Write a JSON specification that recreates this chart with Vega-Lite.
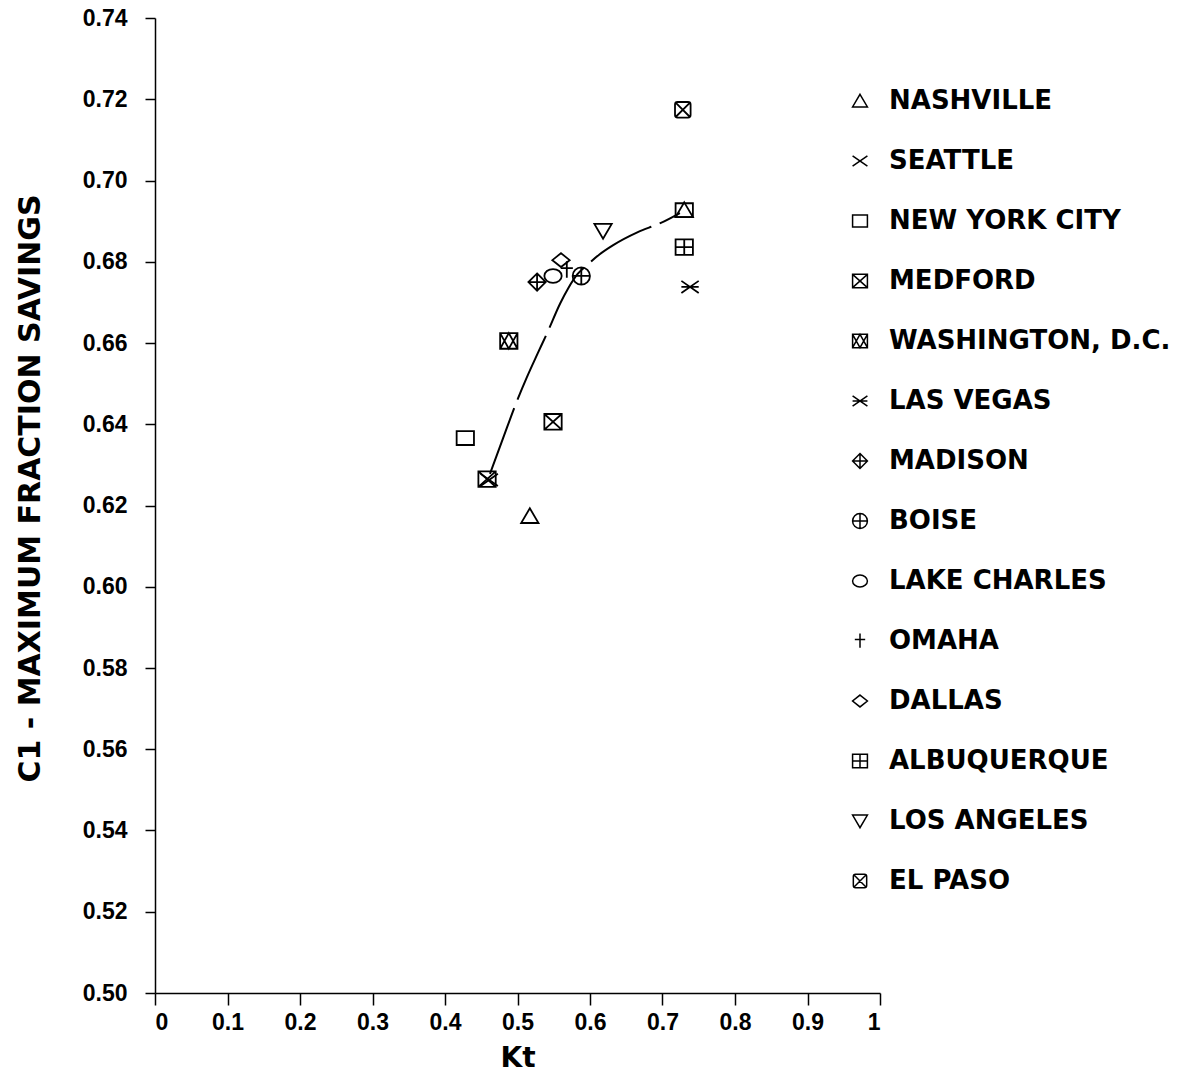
{
  "$schema": "https://vega.github.io/schema/vega-lite/v6.json",
  "width": 725,
  "height": 975,
  "autosize": {"type": "none"},
  "padding": {"left": 155, "top": 18, "right": 312, "bottom": 84},
  "background": "white",
  "config": {"view": {"stroke": null}, "font": "DejaVu Sans"},
  "datasets": {
    "pts": [
      {"city": "NASHVILLE", "kt": 0.517, "c1": 0.6174},
      {"city": "SEATTLE", "kt": 0.461, "c1": 0.6263},
      {"city": "NEW YORK CITY", "kt": 0.428, "c1": 0.6366},
      {"city": "MEDFORD", "kt": 0.549, "c1": 0.6406},
      {"city": "MEDFORD", "kt": 0.458, "c1": 0.6265},
      {"city": "WASHINGTON, D.C.", "kt": 0.488, "c1": 0.6605},
      {"city": "LAS VEGAS", "kt": 0.738, "c1": 0.6738},
      {"city": "MADISON", "kt": 0.527, "c1": 0.675},
      {"city": "BOISE", "kt": 0.588, "c1": 0.6765},
      {"city": "LAKE CHARLES", "kt": 0.549, "c1": 0.6765},
      {"city": "OMAHA", "kt": 0.568, "c1": 0.678},
      {"city": "DALLAS", "kt": 0.56, "c1": 0.6804},
      {"city": "ALBUQUERQUE", "kt": 0.73, "c1": 0.6836},
      {"city": "LOS ANGELES", "kt": 0.618, "c1": 0.6876},
      {"city": "EL PASO", "kt": 0.728, "c1": 0.7174},
      {"city": "NEW YORK CITY", "kt": 0.73, "c1": 0.6927},
      {"city": "NASHVILLE", "kt": 0.73, "c1": 0.6927}
    ],
    "curve": [
      {"kt": 0.462, "c1": 0.6278},
      {"kt": 0.48, "c1": 0.6365},
      {"kt": 0.497, "c1": 0.6447},
      {"kt": 0.513, "c1": 0.6516},
      {"kt": 0.528, "c1": 0.6575},
      {"kt": 0.541, "c1": 0.6625},
      {"kt": 0.559, "c1": 0.6698},
      {"kt": 0.57, "c1": 0.6735},
      {"kt": 0.583, "c1": 0.677},
      {"kt": 0.596, "c1": 0.6792},
      {"kt": 0.613, "c1": 0.6818},
      {"kt": 0.632, "c1": 0.6841},
      {"kt": 0.666, "c1": 0.6873},
      {"kt": 0.697, "c1": 0.6895},
      {"kt": 0.724, "c1": 0.692}
    ]
  },
  "layer": [
    {
      "data": {"name": "curve"},
      "mark": {"type": "line", "color": "black", "strokeWidth": 2, "strokeDash": [70, 9], "interpolate": "monotone"},
      "encoding": {
        "x": {"field": "kt", "type": "quantitative"},
        "y": {"field": "c1", "type": "quantitative"}
      }
    },
    {
      "data": {"name": "pts"},
      "mark": {"type": "point", "filled": false, "stroke": "black", "strokeWidth": 1.8, "size": 300, "opacity": 1},
      "encoding": {
        "x": {
          "field": "kt", "type": "quantitative",
          "scale": {"domain": [0, 1], "nice": false, "zero": false},
          "axis": {
            "title": "Kt", "values": [0, 0.1, 0.2, 0.3, 0.4, 0.5, 0.6, 0.7, 0.8, 0.9, 1],
            "format": ".1~f", "grid": false, "domainColor": "black", "domainWidth": 1.5,
            "tickColor": "black", "tickSize": 12, "tickWidth": 1.5,
            "labelFont": "Liberation Sans", "labelFontWeight": "bold",
            "labelFontSize": 23, "labelColor": "black", "labelPadding": 6,
            "titleFontSize": 28, "titleColor": "black", "titleFontWeight": "bold", "titlePadding": 10
          }
        },
        "y": {
          "field": "c1", "type": "quantitative",
          "scale": {"domain": [0.5, 0.74], "nice": false, "zero": false},
          "axis": {
            "title": "C1 - MAXIMUM FRACTION SAVINGS",
            "values": [0.5, 0.52, 0.54, 0.56, 0.58, 0.6, 0.62, 0.64, 0.66, 0.68, 0.7, 0.72, 0.74],
            "format": ".2f", "grid": false, "domainColor": "black", "domainWidth": 1.5,
            "tickColor": "black", "tickSize": 10, "tickWidth": 1.5,
            "labelFont": "Liberation Sans", "labelFontWeight": "bold",
            "labelFontSize": 23, "labelColor": "black", "labelPadding": 18,
            "titleFontSize": 30, "titleColor": "black", "titleFontWeight": "bold",
            "titleX": -110, "titleY": 470
          }
        },
        "shape": {
          "field": "city", "type": "nominal",
          "scale": {
            "domain": ["NASHVILLE", "SEATTLE", "NEW YORK CITY", "MEDFORD", "WASHINGTON, D.C.", "LAS VEGAS", "MADISON", "BOISE", "LAKE CHARLES", "OMAHA", "DALLAS", "ALBUQUERQUE", "LOS ANGELES", "EL PASO"],
            "range": [
              "M0,-0.9L1,0.8L-1,0.8Z",
              "M-1,-0.7L1,0.7M-1,0.7L1,-0.7",
              "M-1,-0.8H1V0.8H-1Z",
              "M-1,-0.9H1V0.9H-1ZM-1,-0.9L1,0.9M-1,0.9L1,-0.9",
              "M-1,-0.9H1V0.9H-1ZM-1,-0.9L0,0.9L1,-0.9M-1,0.9L0,-0.9L1,0.9",
              "M-1,-0.7L1,0.7M-1,0.7L1,-0.7M-1,0H1",
              "M0,-1L1,0L0,1L-1,0ZM0,-1V1M-1,0H1",
              "M-1,0A1,1 0 1,0 1,0A1,1 0 1,0 -1,0ZM0,-1V1M-1,0H1",
              "M-1,0A1,0.8 0 1,0 1,0A1,0.8 0 1,0 -1,0Z",
              "M0,-1V0.9M-0.7,-0.2H0.7",
              "M0,-0.8L1,0L0,0.8L-1,0Z",
              "M-1,-0.9H1V0.9H-1ZM0,-0.9V0.9M-1,0H1",
              "M-1,-0.8L1,-0.8L0,0.9Z",
              "M-0.9,-0.6Q-0.9,-0.9 -0.6,-0.9H0.6Q0.9,-0.9 0.9,-0.6V0.6Q0.9,0.9 0.6,0.9H-0.6Q-0.9,0.9 -0.9,0.6ZM-0.8,-0.8L0.8,0.8M-0.8,0.8L0.8,-0.8"
            ]
          },
          "legend": {
            "title": null, "orient": "none", "legendX": 692, "legendY": 70,
            "symbolSize": 220, "symbolStrokeColor": "black", "symbolStrokeWidth": 1.5, "symbolFillColor": "transparent",
            "labelFontSize": 26, "labelFontWeight": "bold", "labelColor": "black", "labelOffset": 16,
            "rowPadding": 34, "labelLimit": 400
          }
        }
      }
    }
  ]
}
